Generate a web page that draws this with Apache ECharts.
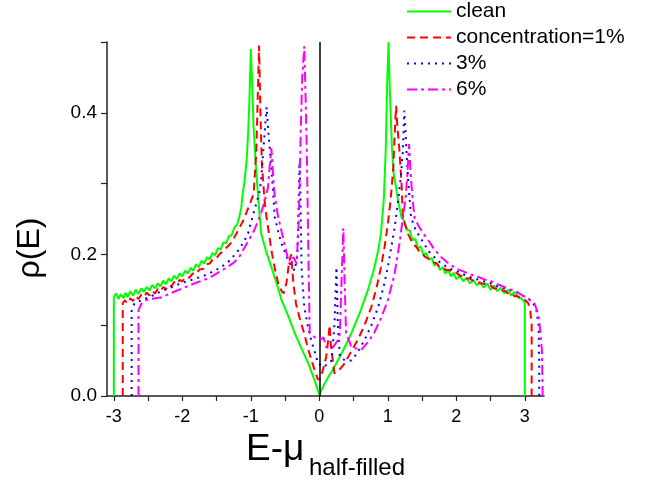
<!DOCTYPE html>
<html>
<head>
<meta charset="utf-8">
<script src="https://cdn.jsdelivr.net/npm/echarts@6/dist/echarts.min.js"></script>
<style>
html,body{margin:0;padding:0;background:#fff;}
#chart{width:662px;height:485px;}
</style>
</head>
<body>
<div id="chart"></div>
<script>
const seriesNames = ['clean', 'concentration=1%', '3%', '6%'];
const xTickLabels = [-3, -2, -1, 0, 1, 2, 3];
const xTicks = [-3, -2.5, -2, -1.5, -1, -0.5, 0, 0.5, 1, 1.5, 2, 2.5, 3];
const yTickLabels = [0, 0.2, 0.4];
const yTicks = [0, 0.1, 0.2, 0.3, 0.4, 0.5];

const clean = [[-3.0,0],[-3.0,0.139],[-2.97,0.145],[-2.93,0.137],[-2.9,0.144],[-2.86,0.138],[-2.83,0.146],[-2.8,0.14],[-2.76,0.148],[-2.72,0.142],[-2.68,0.15],[-2.64,0.144],[-2.6,0.152],[-2.56,0.147],[-2.52,0.154],[-2.48,0.149],[-2.44,0.157],[-2.4,0.152],[-2.36,0.159],[-2.32,0.155],[-2.28,0.163],[-2.24,0.158],[-2.2,0.166],[-2.16,0.162],[-2.12,0.17],[-2.08,0.165],[-2.04,0.173],[-2.0,0.169],[-1.96,0.177],[-1.92,0.173],[-1.88,0.181],[-1.84,0.177],[-1.8,0.186],[-1.76,0.182],[-1.72,0.191],[-1.68,0.187],[-1.64,0.196],[-1.6,0.193],[-1.56,0.202],[-1.52,0.199],[-1.48,0.209],[-1.44,0.207],[-1.4,0.217],[-1.36,0.216],[-1.32,0.226],[-1.28,0.227],[-1.24,0.238],[-1.2,0.242],[-1.17,0.252],[-1.14,0.266],[-1.12,0.285],[-1.09,0.305],[-1.06,0.335],[-1.04,0.37],[-1.02,0.42],[-1.0,0.49],[-0.98,0.44],[-0.96,0.38],[-0.93,0.33],[-0.89,0.276],[-0.85,0.23],[-0.78,0.205],[-0.7,0.182],[-0.62,0.158],[-0.55,0.135],[-0.45,0.112],[-0.36,0.089],[-0.26,0.067],[-0.16,0.046],[-0.08,0.025],[0,0.002],[0.08,0.018],[0.15,0.03],[0.22,0.041],[0.35,0.065],[0.47,0.089],[0.6,0.12],[0.71,0.15],[0.8,0.18],[0.86,0.206],[0.9,0.23],[0.94,0.276],[0.97,0.35],[0.99,0.44],[1.01,0.5],[1.03,0.43],[1.06,0.35],[1.09,0.31],[1.12,0.295],[1.15,0.276],[1.2,0.252],[1.24,0.247],[1.28,0.234],[1.32,0.234],[1.36,0.22],[1.4,0.222],[1.44,0.209],[1.48,0.211],[1.52,0.199],[1.56,0.202],[1.6,0.192],[1.64,0.195],[1.68,0.184],[1.72,0.188],[1.76,0.178],[1.8,0.182],[1.84,0.173],[1.88,0.178],[1.92,0.169],[1.96,0.174],[2.0,0.165],[2.05,0.17],[2.1,0.162],[2.15,0.167],[2.2,0.159],[2.25,0.164],[2.3,0.156],[2.35,0.161],[2.4,0.153],[2.45,0.159],[2.5,0.15],[2.55,0.156],[2.6,0.148],[2.65,0.153],[2.7,0.145],[2.75,0.15],[2.8,0.142],[2.85,0.147],[2.9,0.139],[2.95,0.138],[3.0,0.132],[3.0,0]];

const conc1 = [[-2.87,0],[-2.87,0.131],[-2.84,0.135],[-2.8,0.131],[-2.76,0.138],[-2.72,0.134],[-2.68,0.141],[-2.64,0.137],[-2.6,0.143],[-2.56,0.14],[-2.52,0.146],[-2.48,0.142],[-2.44,0.148],[-2.4,0.145],[-2.36,0.151],[-2.32,0.148],[-2.28,0.154],[-2.24,0.151],[-2.2,0.157],[-2.16,0.155],[-2.12,0.161],[-2.08,0.158],[-2.04,0.164],[-2.0,0.162],[-1.95,0.168],[-1.9,0.167],[-1.85,0.173],[-1.8,0.172],[-1.75,0.179],[-1.7,0.179],[-1.65,0.186],[-1.6,0.187],[-1.55,0.194],[-1.5,0.195],[-1.45,0.201],[-1.4,0.205],[-1.35,0.21],[-1.3,0.215],[-1.24,0.224],[-1.18,0.235],[-1.11,0.248],[-1.06,0.26],[-1.02,0.27],[-0.96,0.285],[-0.92,0.346],[-0.9,0.42],[-0.88,0.495],[-0.86,0.4],[-0.84,0.33],[-0.8,0.276],[-0.77,0.252],[-0.7,0.206],[-0.65,0.18],[-0.6,0.159],[-0.55,0.148],[-0.52,0.145],[-0.48,0.16],[-0.44,0.19],[-0.41,0.2],[-0.38,0.16],[-0.34,0.13],[-0.29,0.111],[-0.22,0.088],[-0.16,0.065],[-0.08,0.04],[-0.02,0.023],[0.02,0.025],[0.06,0.04],[0.1,0.055],[0.13,0.08],[0.15,0.1],[0.17,0.07],[0.22,0.032],[0.3,0.038],[0.37,0.046],[0.46,0.062],[0.56,0.079],[0.66,0.1],[0.76,0.126],[0.84,0.155],[0.9,0.182],[0.96,0.215],[1.0,0.243],[1.04,0.276],[1.08,0.323],[1.1,0.37],[1.12,0.41],[1.14,0.38],[1.17,0.346],[1.2,0.3],[1.22,0.252],[1.26,0.24],[1.3,0.228],[1.34,0.22],[1.38,0.214],[1.42,0.21],[1.46,0.204],[1.5,0.201],[1.55,0.196],[1.6,0.194],[1.65,0.189],[1.7,0.188],[1.75,0.183],[1.8,0.182],[1.85,0.178],[1.9,0.178],[1.95,0.174],[2.0,0.174],[2.05,0.17],[2.1,0.17],[2.15,0.166],[2.2,0.166],[2.25,0.162],[2.3,0.162],[2.35,0.159],[2.4,0.159],[2.45,0.156],[2.5,0.156],[2.55,0.152],[2.6,0.152],[2.65,0.149],[2.7,0.149],[2.75,0.145],[2.8,0.145],[2.85,0.141],[2.9,0.141],[2.95,0.137],[3.0,0.136],[3.05,0.131],[3.08,0.12],[3.1,0.1],[3.1,0]];

const conc3 = [[-2.74,0],[-2.74,0.12],[-2.7,0.131],[-2.65,0.133],[-2.6,0.135],[-2.55,0.137],[-2.5,0.139],[-2.45,0.141],[-2.4,0.144],[-2.35,0.146],[-2.3,0.148],[-2.25,0.15],[-2.2,0.152],[-2.15,0.154],[-2.1,0.156],[-2.05,0.158],[-2.0,0.16],[-1.9,0.163],[-1.8,0.166],[-1.68,0.17],[-1.55,0.176],[-1.43,0.182],[-1.3,0.192],[-1.18,0.206],[-1.1,0.218],[-1.04,0.23],[-0.95,0.262],[-0.88,0.285],[-0.85,0.304],[-0.8,0.37],[-0.77,0.408],[-0.75,0.38],[-0.73,0.356],[-0.7,0.323],[-0.65,0.252],[-0.6,0.232],[-0.55,0.215],[-0.45,0.19],[-0.36,0.177],[-0.32,0.2],[-0.3,0.28],[-0.29,0.33],[-0.28,0.3],[-0.27,0.25],[-0.26,0.182],[-0.22,0.126],[-0.17,0.1],[-0.12,0.079],[-0.06,0.06],[-0.02,0.046],[0.06,0.041],[0.12,0.045],[0.18,0.05],[0.22,0.1],[0.25,0.182],[0.27,0.1],[0.3,0.055],[0.38,0.05],[0.47,0.05],[0.56,0.062],[0.66,0.079],[0.76,0.1],[0.86,0.126],[0.94,0.155],[1.0,0.182],[1.05,0.21],[1.1,0.238],[1.15,0.276],[1.19,0.31],[1.22,0.346],[1.24,0.403],[1.26,0.37],[1.28,0.33],[1.3,0.3],[1.34,0.252],[1.4,0.236],[1.47,0.224],[1.53,0.215],[1.6,0.204],[1.7,0.194],[1.78,0.187],[1.9,0.18],[2.0,0.177],[2.1,0.172],[2.2,0.168],[2.3,0.165],[2.4,0.162],[2.51,0.159],[2.6,0.155],[2.7,0.152],[2.8,0.149],[2.9,0.146],[3.0,0.14],[3.09,0.135],[3.14,0.128],[3.17,0.121],[3.2,0.1],[3.21,0.05],[3.21,0]];

const conc6 = [[-2.64,0],[-2.64,0.121],[-2.6,0.13],[-2.55,0.135],[-2.5,0.136],[-2.45,0.137],[-2.4,0.138],[-2.31,0.139],[-2.2,0.144],[-2.1,0.148],[-2.0,0.152],[-1.9,0.156],[-1.8,0.16],[-1.68,0.164],[-1.55,0.17],[-1.43,0.177],[-1.33,0.183],[-1.24,0.189],[-1.16,0.198],[-1.09,0.21],[-1.02,0.222],[-0.95,0.234],[-0.85,0.258],[-0.8,0.275],[-0.75,0.294],[-0.72,0.33],[-0.7,0.35],[-0.68,0.32],[-0.66,0.29],[-0.63,0.27],[-0.6,0.252],[-0.55,0.232],[-0.51,0.215],[-0.44,0.187],[-0.38,0.196],[-0.33,0.187],[-0.3,0.25],[-0.27,0.38],[-0.25,0.45],[-0.22,0.494],[-0.2,0.42],[-0.18,0.33],[-0.16,0.2],[-0.14,0.089],[-0.07,0.083],[0.03,0.08],[0.06,0.083],[0.1,0.069],[0.2,0.069],[0.28,0.08],[0.3,0.089],[0.33,0.18],[0.35,0.237],[0.37,0.16],[0.39,0.089],[0.47,0.069],[0.61,0.065],[0.7,0.075],[0.8,0.089],[0.9,0.11],[1.0,0.135],[1.1,0.173],[1.17,0.215],[1.22,0.252],[1.26,0.28],[1.29,0.32],[1.31,0.356],[1.33,0.32],[1.34,0.304],[1.37,0.27],[1.39,0.252],[1.45,0.24],[1.5,0.232],[1.59,0.22],[1.68,0.207],[1.78,0.196],[1.9,0.186],[2.0,0.18],[2.1,0.176],[2.2,0.172],[2.3,0.169],[2.4,0.165],[2.51,0.162],[2.6,0.158],[2.7,0.154],[2.8,0.15],[2.9,0.146],[3.0,0.14],[3.08,0.135],[3.14,0.131],[3.18,0.12],[3.21,0.107],[3.23,0.085],[3.25,0.065],[3.26,0]];

const FONT = '"Liberation Sans", Arial, sans-serif';
const chart = echarts.init(document.getElementById('chart'), null, {renderer: 'canvas'});

function lineSeries(name, data, color, type, width, z) {
  return {
    name: name, type: 'line', data: data, symbol: 'none', showSymbol: false,
    smooth: false, z: z, clip: true,
    lineStyle: {color: color, width: width, type: type},
    itemStyle: {color: color}
  };
}

const s0 = lineSeries(seriesNames[0], clean, '#00ff00', 'solid', 2, 2);
s0.markLine = {
  silent: true, symbol: ['none', 'none'], animation: false,
  label: {show: false},
  lineStyle: {color: '#000', width: 1.5, type: 'solid'},
  data: [{xAxis: 0}]
};

chart.setOption({
  animation: false,
  backgroundColor: '#fff',
  grid: {left: 107, top: 42, width: 437, height: 354, containLabel: false},
  legend: {
    orient: 'vertical', left: 406, top: 1, padding: 0,
    itemWidth: 44, itemHeight: 14, itemGap: 5,
    itemStyle: {opacity: 0},
    textStyle: {fontSize: 21, color: '#000', fontFamily: FONT, lineHeight: 21},
    data: seriesNames
  },
  xAxis: {
    type: 'value', min: -3.1, max: 3.28,
    axisLine: {show: true, onZero: false, lineStyle: {color: '#222', width: 1.5}},
    axisTick: {show: true, inside: false, length: 5, customValues: xTicks, lineStyle: {color: '#222', width: 1.2}},
    axisLabel: {customValues: xTickLabels, fontSize: 18, color: '#000', fontFamily: FONT, margin: 12,
      formatter: v => String(v)},
    splitLine: {show: false}
  },
  yAxis: {
    type: 'value', min: 0, max: 0.5,
    axisLine: {show: true, onZero: false, lineStyle: {color: '#222', width: 1.5}},
    axisTick: {show: true, inside: false, length: 6, customValues: yTicks, lineStyle: {color: '#222', width: 1.2}},
    axisLabel: {customValues: yTickLabels, fontSize: 19, color: '#000', fontFamily: FONT, margin: 10,
      formatter: v => Number(v).toFixed(1)},
    splitLine: {show: false}
  },
  graphic: [
    {type: 'text', x: 30, y: 248, rotation: Math.PI / 2,
      style: {text: 'ρ(E)', font: '32px ' + FONT, fill: '#000', align: 'center', verticalAlign: 'middle'}},
    {type: 'text', x: 246, y: 450,
      style: {text: 'E-μ', font: '37px ' + FONT, fill: '#000', align: 'left', verticalAlign: 'middle'}},
    {type: 'text', x: 309, y: 468,
      style: {text: 'half-filled', font: '24px ' + FONT, fill: '#000', align: 'left', verticalAlign: 'middle'}}
  ],
  series: [
    s0,
    lineSeries(seriesNames[1], conc1, '#ff0000', [8, 5], 2, 3),
    lineSeries(seriesNames[2], conc3, '#0000ff', [2, 5], 2, 4),
    lineSeries(seriesNames[3], conc6, '#ff00ff', [10, 4, 3, 4], 2, 5)
  ]
});
</script>
</body>
</html>
